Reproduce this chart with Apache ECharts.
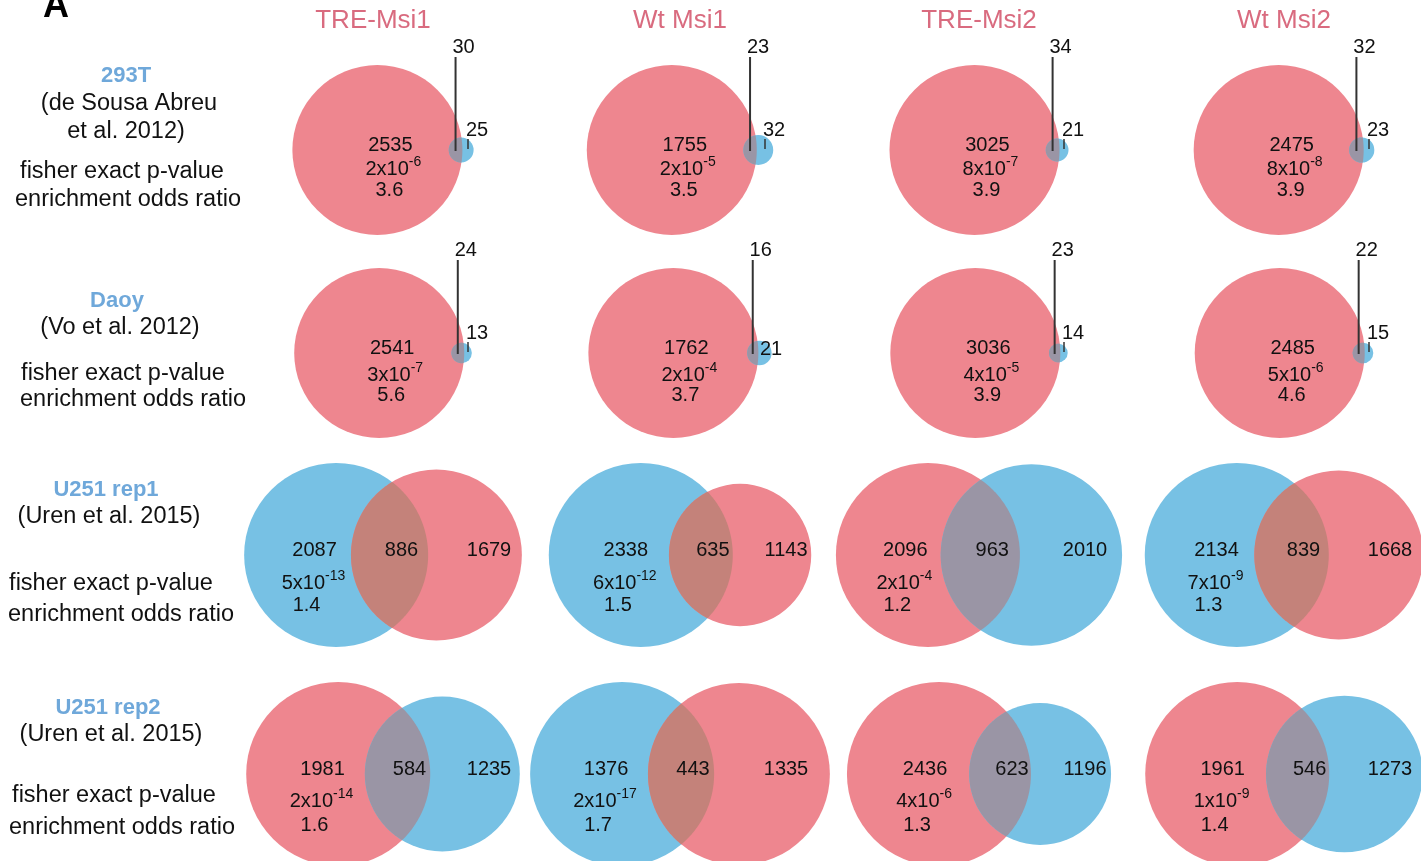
<!DOCTYPE html>
<html>
<head>
<meta charset="utf-8">
<script src="https://cdn.jsdelivr.net/npm/echarts@6/dist/echarts.min.js"></script>
<style>
html,body{margin:0;padding:0;background:#fff;}
#chart{width:1421px;height:861px;}
</style>
</head>
<body>
<div id="chart"></div>
<script>
// ---------------- DATA ----------------
const columns = ['TRE-Msi1', 'Wt Msi1', 'TRE-Msi2', 'Wt Msi2'];
const rowNames = ['293T', 'Daoy', 'U251 rep1', 'U251 rep2'];
const rowRefs = [['(de Sousa Abreu', 'et al. 2012)'], ['(Vo et al. 2012)'], ['(Uren et al. 2015)'], ['(Uren et al. 2015)']];
const statLabels = ['fisher exact p-value', 'enrichment odds ratio'];
// counts per row (dataset) x column (Msi set)
const redOnly  = [[2535, 1755, 3025, 2475], [2541, 1762, 3036, 2485], [1679, 1143, 2096, 1668], [1981, 1335, 2436, 1961]];
const overlap  = [[30, 23, 34, 32], [24, 16, 23, 22], [886, 635, 963, 839], [584, 443, 623, 546]];
const blueOnly = [[25, 32, 21, 23], [13, 21, 14, 15], [2087, 2338, 2010, 2134], [1235, 1376, 1196, 1273]];
const pMantissa = [[2, 2, 8, 8], [3, 2, 4, 5], [5, 6, 2, 7], [2, 2, 4, 1]];
const pExponent = [[-6, -5, -7, -8], [-7, -4, -5, -6], [-13, -12, -4, -9], [-14, -17, -6, -9]];
const oddsRatio = [['3.6', '3.5', '3.9', '3.9'], ['5.6', '3.7', '3.9', '4.6'], ['1.4', '1.5', '1.2', '1.3'], ['1.6', '1.7', '1.3', '1.4']];

// ---------------- LAYOUT / STYLE ----------------
const FONT = '"Liberation Sans", Arial, Helvetica, sans-serif';
const RED = '#EE868F', BLUE = '#77C1E4', RED_ON_TOP = '#C4827A', BLUE_ON_TOP = '#9A95A5';
const TITLE_COLOR = '#D96B7F', NAME_COLOR = '#6FA8DA', TEXT = '#111';
const CW = 1421, CH = 861;
const colCenters = [383, 680, 979, 1284];
const rowCenters = [150, 353, 555, 774];
const rowRadius = [85, 85, 92, 92];       // pixel radius of the larger circle
const pOffset = [19, 22, 28, 27], orOffset = [40, 42, 50, 51];
const sideLabel = [[0, 0, 0, 0], [0, 1, 0, 0], [0, 0, 0, 0], [0, 0, 0, 0]];
const NUM = 20, SUP = 14, SUP_RAISE = 7;

const nameX = [126, 117, 106, 108], nameY = [76, 301, 490, 708];
const refX = [[129, 126], [120], [109], [111]], refY = [[104, 132], [328], [517], [735]];
const statX = [[122, 128], [123, 133], [111, 121], [114, 122]], statY = [[172, 200], [374, 400], [584, 615], [796, 828]];

// ---------------- GEOMETRY ----------------
function overlapArea(r1, r2, d) {
  if (d >= r1 + r2) return 0;
  if (d <= Math.abs(r1 - r2)) return Math.PI * Math.min(r1, r2) ** 2;
  const a = r1 * r1 * Math.acos((d * d + r1 * r1 - r2 * r2) / (2 * d * r1));
  const b = r2 * r2 * Math.acos((d * d + r2 * r2 - r1 * r1) / (2 * d * r2));
  const c = 0.5 * Math.sqrt((-d + r1 + r2) * (d + r1 - r2) * (d - r1 + r2) * (d + r1 + r2));
  return a + b - c;
}
function solveDistance(r1, r2, area) {
  let lo = Math.abs(r1 - r2), hi = r1 + r2;
  for (let i = 0; i < 200; i++) {
    const mid = (lo + hi) / 2;
    if (overlapArea(r1, r2, mid) > area) lo = mid; else hi = mid;
  }
  return (lo + hi) / 2;
}

const panels = [];
for (let r = 0; r < 4; r++) {
  for (let c = 0; c < 4; c++) {
    const redTot = redOnly[r][c] + overlap[r][c];
    const blueTot = blueOnly[r][c] + overlap[r][c];
    const redLeft = redTot >= blueTot;
    const L = redLeft ? { tot: redTot, only: redOnly[r][c], color: RED } : { tot: blueTot, only: blueOnly[r][c], color: BLUE };
    const R = redLeft ? { tot: blueTot, only: blueOnly[r][c], color: BLUE } : { tot: redTot, only: redOnly[r][c], color: RED };
    const rL = Math.sqrt(L.tot / Math.PI), rR = Math.sqrt(R.tot / Math.PI);
    const d = solveDistance(rL, rR, overlap[r][c]);
    const k = rowRadius[r] / rL;
    const xc = (d + rR - rL) / 2;
    panels.push({
      r, c, L, R, rL, rR, d, k, xc,
      lensColor: redLeft ? BLUE_ON_TOP : RED_ON_TOP,
      external: Math.min(L.tot, R.tot) / Math.max(L.tot, R.tot) < 0.1,
      side: sideLabel[r][c] === 1,
      ov: overlap[r][c], p: [pMantissa[r][c], pExponent[r][c]], or: oddsRatio[r][c]
    });
  }
}

// ---------------- TEXT HELPERS ----------------
const measureCtx = document.createElement('canvas').getContext('2d');
function textWidth(text, size) {
  measureCtx.font = size + 'px ' + FONT;
  return measureCtx.measureText(String(text)).width;
}
function txt(x, y, text, size, align) {
  return {
    type: 'text', x, y, z2: 10,
    style: { text: String(text), fill: TEXT, font: size + 'px ' + FONT, fontSize: size, fontFamily: FONT,
             align: align || 'center', verticalAlign: 'middle', textAlign: align || 'center', textVerticalAlign: 'middle' }
  };
}
// p-value "m x10^e" centred on x, base line centred on y
function pTexts(x, y, m, e) {
  const base = m + 'x10', sup = String(e);
  const wb = textWidth(base, NUM), ws = textWidth(sup, SUP);
  const x0 = x - (wb + ws) / 2;
  return [txt(x0, y, base, NUM, 'left'), txt(x0 + wb, y - SUP_RAISE, sup, SUP, 'left')];
}
function line(x1, y1, x2, y2, w) {
  return { type: 'line', z2: 9, shape: { x1, y1, x2, y2 }, style: { stroke: '#333', lineWidth: w } };
}

// ---------------- RENDER ----------------
function makeRender(P) {
  return function (params, api) {
    const cL = api.coord([0, 0]);
    const cR = api.coord([P.d, 0]);
    const rLpx = api.size([P.rL, 0])[0];
    const rRpx = api.size([P.rR, 0])[0];
    const cy = cL[1];
    const children = [];
    children.push({ type: 'circle', z2: 1, shape: { cx: cL[0], cy: cL[1], r: rLpx }, style: { fill: P.L.color } });
    children.push({ type: 'circle', z2: 2, shape: { cx: cR[0], cy: cR[1], r: rRpx }, style: { fill: P.R.color } });
    // lens (intersection) polygon computed in data space
    const xi = (P.d * P.d + P.rL * P.rL - P.rR * P.rR) / (2 * P.d);
    const h = Math.sqrt(Math.max(0, P.rL * P.rL - xi * xi));
    const thL = Math.atan2(h, xi);
    const phR = Math.atan2(h, xi - P.d);
    const pts = [];
    const N = 90;
    for (let i = 0; i <= N; i++) {
      const t = -thL + (2 * thL) * i / N;
      pts.push(api.coord([P.rL * Math.cos(t), P.rL * Math.sin(t)]));
    }
    for (let i = 0; i <= N; i++) {
      const t = phR + (2 * Math.PI - 2 * phR) * i / N;
      pts.push(api.coord([P.d + P.rR * Math.cos(t), P.rR * Math.sin(t)]));
    }
    children.push({ type: 'polygon', z2: 3, shape: { points: pts }, style: { fill: P.lensColor } });

    const lensMid = api.coord([((P.d - P.rR) + P.rL) / 2, 0])[0];
    const rightMid = api.coord([(P.rL + P.d + P.rR) / 2, 0])[0];
    if (P.external) {
      children.push(txt(cL[0] + 13, cy - 5, P.L.only, NUM));
      children.push(...pTexts(cL[0] + 16, cy + pOffset[P.r], P.p[0], P.p[1]));
      children.push(txt(cL[0] + 12, cy + orOffset[P.r], P.or, NUM));
      children.push(line(lensMid, cy + 1, lensMid, cy - 93, 2));
      children.push(txt(lensMid + 8, cy - 103, P.ov, NUM));
      if (P.side) {
        children.push(txt(rightMid + 6, cy - 4, P.R.only, NUM));
      } else {
        children.push(line(rightMid, cy - 1, rightMid, cy - 11, 1.5));
        children.push(txt(rightMid + 9, cy - 20, P.R.only, NUM));
      }
    } else {
      const leftMid = api.coord([(-P.rL + P.d - P.rR) / 2, 0])[0];
      children.push(txt(leftMid + 17, cy - 5, P.L.only, NUM));
      children.push(txt(lensMid + 12, cy - 5, P.ov, NUM));
      children.push(txt(rightMid + 14, cy - 5, P.R.only, NUM));
      children.push(...pTexts(leftMid + 16, cy + pOffset[P.r], P.p[0], P.p[1]));
      children.push(txt(leftMid + 9, cy + orOffset[P.r], P.or, NUM));
    }
    return { type: 'group', children };
  };
}

const grids = [], xAxes = [], yAxes = [], series = [];
panels.forEach((P, i) => {
  const cx = colCenters[P.c], cy = rowCenters[P.r];
  // keep every grid fully inside the canvas so both axes keep the same pixel scale
  const hw = Math.min(140, cx - 1, CW - 1 - cx);
  const hh = Math.min(80, cy - 1, CH - 1 - cy);
  grids.push({ left: cx - hw, top: cy - hh, width: 2 * hw, height: 2 * hh, show: false, containLabel: false });
  xAxes.push({ type: 'value', gridIndex: i, show: false, scale: true, min: P.xc - hw / P.k, max: P.xc + hw / P.k });
  yAxes.push({ type: 'value', gridIndex: i, show: false, scale: true, min: -hh / P.k, max: hh / P.k });
  series.push({
    type: 'custom', coordinateSystem: 'cartesian2d', xAxisIndex: i, yAxisIndex: i,
    clip: false, silent: true, animation: false,
    renderItem: makeRender(P), data: [[0, 0]]
  });
});

// static texts
function gText(x, y, text, size, color, bold) {
  return {
    type: 'text', x, y, silent: true,
    style: { text, fill: color, font: (bold ? 'bold ' : '') + size + 'px ' + FONT,
             align: 'center', verticalAlign: 'middle', textAlign: 'center', textVerticalAlign: 'middle' }
  };
}
const graphics = [];
graphics.push(gText(56, 7, 'A', 36, '#000', true));
columns.forEach((t, c) => graphics.push(gText(colCenters[c] - (c === 0 ? 10 : 0), 21, t, 26, TITLE_COLOR, false)));
rowNames.forEach((n, r) => {
  graphics.push(gText(nameX[r], nameY[r], n, 22, NAME_COLOR, true));
  rowRefs[r].forEach((t, j) => graphics.push(gText(refX[r][j], refY[r][j], t, 23.5, TEXT, false)));
  statLabels.forEach((t, j) => graphics.push(gText(statX[r][j], statY[r][j], t, 23.5, TEXT, false)));
});

const chart = echarts.init(document.getElementById('chart'), null, { renderer: 'canvas' });
chart.setOption({
  backgroundColor: '#fff',
  animation: false,
  grid: grids,
  xAxis: xAxes,
  yAxis: yAxes,
  series,
  graphic: graphics
});
</script>
</body>
</html>
